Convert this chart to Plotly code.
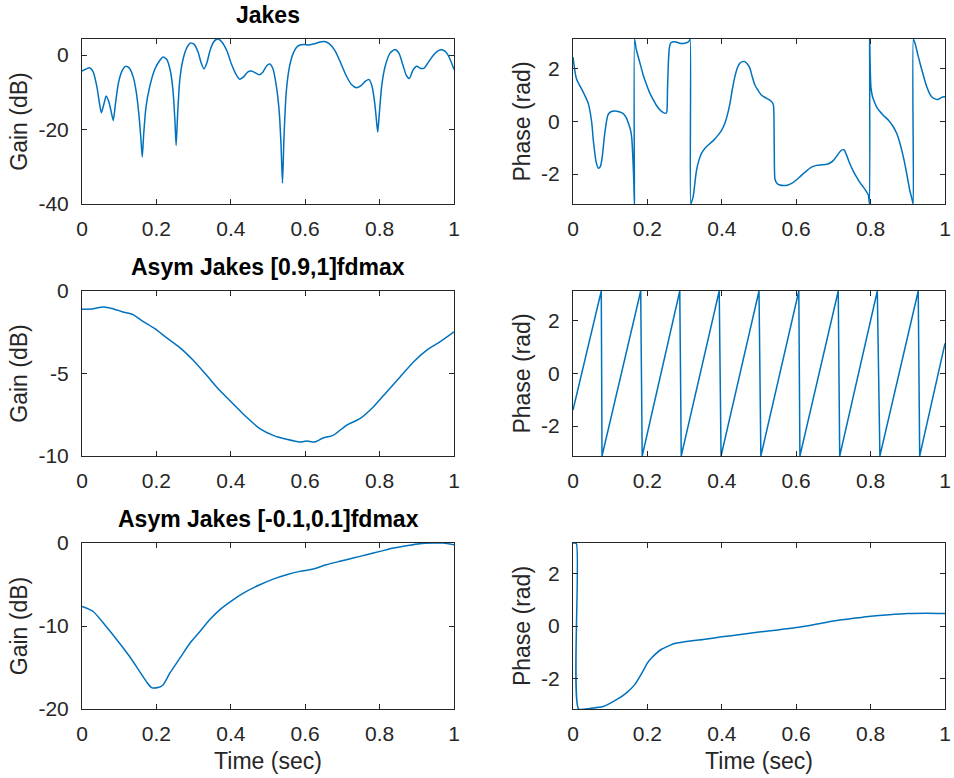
import math
import plotly.graph_objects as go

PI = math.pi

# ---------------- data ----------------
# Row 1: Jakes
jakes_t = [0.000, 0.010, 0.020, 0.030, 0.040, 0.047, 0.052, 0.058, 0.065, 0.072, 0.078, 0.084,
           0.090, 0.098, 0.108, 0.118, 0.128, 0.138, 0.146, 0.153, 0.158, 0.162, 0.166, 0.172,
           0.182, 0.195, 0.208, 0.218, 0.228, 0.238, 0.245, 0.250, 0.253, 0.257, 0.263, 0.272,
           0.282, 0.292, 0.302, 0.312, 0.320, 0.328, 0.336, 0.345, 0.356, 0.366, 0.376, 0.390,
           0.402, 0.414, 0.424, 0.435, 0.446, 0.456, 0.466, 0.476, 0.486, 0.497, 0.505, 0.513,
           0.522, 0.530, 0.535, 0.539, 0.543, 0.549, 0.558, 0.568, 0.580, 0.595, 0.610, 0.625,
           0.640, 0.652, 0.665, 0.680, 0.695, 0.710, 0.725, 0.738, 0.750, 0.762, 0.772, 0.780,
           0.787, 0.792, 0.795, 0.799, 0.806, 0.815, 0.828, 0.841, 0.852, 0.862, 0.872, 0.880,
           0.890, 0.900, 0.910, 0.920, 0.932, 0.945, 0.958, 0.968, 0.978, 0.988, 1.000]
jakes_gain = [-4.3, -3.8, -3.4, -4.5, -8.5, -13.0, -15.5, -13.5, -11.0, -12.5, -15.0, -17.6,
              -13.0, -7.5, -4.2, -3.0, -3.6, -6.0, -10.0, -16.0, -22.0, -27.4, -21.0, -14.0,
              -8.5, -4.0, -1.6, -0.5, -1.2, -4.5, -10.0, -18.0, -24.3, -16.0, -6.5, -1.0,
              2.0, 3.2, 2.8, 0.8, -2.0, -3.7, -2.0, 1.5, 3.8, 4.3, 3.5, 1.0,
              -2.5, -5.2, -6.5, -5.8, -4.5, -4.3, -4.8, -5.3, -4.6, -2.8, -2.4, -3.6,
              -8.0, -15.0, -24.0, -34.4, -22.0, -10.0, -3.0, 0.5, 2.4, 2.8, 2.7, 3.0,
              3.5, 3.6, 3.0, 1.2, -2.0, -5.5, -8.0, -8.8, -8.2, -7.0, -6.6, -8.5,
              -13.0, -18.0, -20.7, -16.0, -8.0, -3.0, 0.5, 1.5, 0.5, -2.5, -5.5, -6.3,
              -4.0, -3.0, -3.6, -3.5, -1.8, 0.0, 1.2, 1.4, 0.8, -0.8, -3.9]

jakes_phase_t = [0.000, 0.009, 0.027, 0.041, 0.050, 0.055, 0.062, 0.068, 0.074, 0.079, 0.085,
                 0.094, 0.103, 0.112, 0.124, 0.135, 0.143, 0.149, 0.155, 0.158, 0.161, 0.1635,
                 0.165, 0.1655, 0.170, 0.179, 0.188, 0.198, 0.206, 0.216, 0.224, 0.234, 0.242,
                 0.249, 0.252, 0.254, 0.256, 0.259, 0.263, 0.274, 0.287, 0.300, 0.309, 0.313,
                 0.315, 0.3165, 0.319, 0.323, 0.328, 0.332, 0.338, 0.345, 0.356, 0.368, 0.379,
                 0.390, 0.400, 0.408, 0.415, 0.422, 0.428, 0.435, 0.442, 0.448, 0.455, 0.462,
                 0.468, 0.475, 0.482, 0.489, 0.497, 0.507, 0.518, 0.529, 0.536, 0.539, 0.541,
                 0.543, 0.548, 0.556, 0.566, 0.578, 0.590, 0.601, 0.614, 0.628, 0.641, 0.655,
                 0.668, 0.682, 0.692, 0.700, 0.709, 0.717, 0.724, 0.729, 0.736, 0.744, 0.753,
                 0.762, 0.771, 0.780, 0.788, 0.794, 0.797, 0.7975, 0.799, 0.801, 0.805, 0.810,
                 0.816, 0.825, 0.834, 0.848, 0.861, 0.870, 0.879, 0.888, 0.897, 0.905, 0.912,
                 0.9145, 0.915, 0.920, 0.926, 0.933, 0.942, 0.951, 0.958, 0.964, 0.971, 0.978,
                 0.985, 0.991, 1.000]
jakes_phase = [2.45, 1.64, 1.13, 0.69, 0.0, -0.77, -1.53, -1.78, -1.7, -1.3, -0.5,
               0.25, 0.38, 0.4, 0.37, 0.3, 0.15, -0.07, -0.35, -0.64, -1.4, -2.3,
               -3.1416, 3.1416, 2.75, 2.28, 1.8, 1.39, 1.1, 0.82, 0.62, 0.44, 0.35,
               0.31, 0.35, 1.2, 2.1, 2.8, 3.0, 3.04, 2.98, 2.98, 3.02, 3.08,
               3.1416, -3.1416, -3.05, -2.87, -2.3, -1.86, -1.5, -1.22, -1.0, -0.84, -0.7,
               -0.52, -0.32, -0.08, 0.25, 0.69, 1.2, 1.7, 2.05, 2.21, 2.28, 2.28,
               2.2, 2.05, 1.7, 1.39, 1.2, 1.0, 0.9, 0.81, 0.72, 0.6, -1.0,
               -2.2, -2.35, -2.42, -2.44, -2.42, -2.34, -2.22, -2.05, -1.88, -1.74, -1.67,
               -1.65, -1.63, -1.57, -1.48, -1.32, -1.16, -1.08, -1.08, -1.3, -1.6, -1.88,
               -2.11, -2.32, -2.49, -2.65, -2.8, -3.1416, 3.1416, 2.0, 1.3, 0.95, 0.75,
               0.56, 0.38, 0.24, 0.05, -0.2, -0.45, -0.84, -1.35, -1.98, -2.6, -3.0,
               -3.1416, 3.1416, 2.95, 2.6, 2.21, 1.75, 1.32, 1.08, 0.94, 0.87, 0.84,
               0.86, 0.92, 0.94]

# Row 2: Asym Jakes [0.9,1]fdmax
asym1_t = [0.000, 0.030, 0.057, 0.083, 0.110, 0.137, 0.164, 0.196, 0.227, 0.263, 0.299,
           0.335, 0.370, 0.406, 0.442, 0.478, 0.514, 0.550, 0.586, 0.604, 0.626, 0.648,
           0.675, 0.711, 0.747, 0.783, 0.819, 0.855, 0.891, 0.926, 0.962, 1.000]
asym1_gain = [-1.11, -1.07, -0.97, -1.07, -1.27, -1.43, -1.84, -2.28, -2.83, -3.43, -4.20,
              -5.11, -6.02, -6.83, -7.64, -8.34, -8.75, -8.99, -9.15, -9.09, -9.15, -8.91,
              -8.75, -8.14, -7.74, -7.03, -6.12, -5.21, -4.30, -3.60, -3.09, -2.48]

asym1_phase_t = [0.000, 0.076, 0.078, 0.182, 0.186, 0.287, 0.291, 0.393, 0.398, 0.500,
                 0.505, 0.607, 0.610, 0.713, 0.717, 0.818, 0.825, 0.928, 0.932, 1.000]
asym1_phase = [-1.39, 3.1416, -3.1416, 3.1416, -3.1416, 3.1416, -3.1416, 3.1416, -3.1416, 3.1416,
               -3.1416, 3.1416, -3.1416, 3.1416, -3.1416, 3.1416, -3.1416, 3.1416, -3.1416, 1.15]

# Row 3: Asym Jakes [-0.1,0.1]fdmax
asym2_t = [0.000, 0.030, 0.065, 0.101, 0.128, 0.155, 0.173, 0.187, 0.204, 0.218, 0.236,
           0.263, 0.290, 0.317, 0.343, 0.370, 0.406, 0.442, 0.478, 0.514, 0.550, 0.586,
           0.622, 0.657, 0.693, 0.729, 0.765, 0.801, 0.837, 0.873, 0.908, 0.944, 0.971, 1.000]
asym2_gain = [-7.65, -8.25, -10.06, -12.07, -13.68, -15.49, -16.70, -17.42, -17.42, -17.10, -15.69,
              -13.88, -12.07, -10.66, -9.26, -8.05, -6.84, -5.83, -5.03, -4.35, -3.82, -3.42,
              -3.14, -2.62, -2.21, -1.81, -1.41, -1.01, -0.60, -0.32, -0.08, 0.00, 0.00, -0.20]

asym2_phase_t = [0.000, 0.009, 0.015, 0.045, 0.081, 0.117, 0.143, 0.166, 0.188, 0.200, 0.211,
                 0.238, 0.250, 0.269, 0.300, 0.350, 0.400, 0.450, 0.500, 0.550, 0.600, 0.650,
                 0.700, 0.750, 0.800, 0.850, 0.900, 0.950, 1.000]
asym2_phase = [3.14, 3.12, -3.14, -3.12, -3.05, -2.79, -2.54, -2.22, -1.71, -1.40, -1.21,
               -0.88, -0.80, -0.68, -0.60, -0.51, -0.41, -0.32, -0.23, -0.15, -0.06, 0.06,
               0.19, 0.28, 0.37, 0.43, 0.47, 0.48, 0.47]

titles = ["Jakes", "Asym Jakes [0.9,1]fdmax", "Asym Jakes [-0.1,0.1]fdmax"]
x_tickvals = [0, 0.2, 0.4, 0.6, 0.8, 1]
x_ticktext = ["0", "0.2", "0.4", "0.6", "0.8", "1"]
gain1_ticks = [-40, -20, 0]
gain1_text = ["-40", "-20", "0"]
gain2_ticks = [-10, -5, 0]
gain2_text = ["-10", "-5", "0"]
gain3_ticks = [-20, -10, 0]
gain3_text = ["-20", "-10", "0"]
phase_ticks = [-2, 0, 2]
phase_text = ["-2", "0", "2"]
gain_label = "Gain (dB)"
phase_label = "Phase (rad)"
time_label = "Time (sec)"

# ---------------- layout geometry (pixels) ----------------
W, H = 954, 778
col_px = [(82, 454), (573, 945)]
row_px = [(39, 204), (291, 456), (543, 709)]

LINE = "#0072BD"
AX = "#262626"
FONT = "Liberation Sans, Arial, Helvetica, sans-serif"

fig = go.Figure()

series = [
    (jakes_t, jakes_gain, "spline"), (jakes_phase_t, jakes_phase, "spline"),
    (asym1_t, asym1_gain, "spline"), (asym1_phase_t, asym1_phase, "linear"),
    (asym2_t, asym2_gain, "spline"), (asym2_phase_t, asym2_phase, "spline"),
]
yinfo = [
    ([-40, 4.3], gain1_ticks, gain1_text, gain_label),
    ([-PI, PI], phase_ticks, phase_text, phase_label),
    ([-10, 0], gain2_ticks, gain2_text, gain_label),
    ([-PI, PI], phase_ticks, phase_text, phase_label),
    ([-20, 0], gain3_ticks, gain3_text, gain_label),
    ([-PI, PI], phase_ticks, phase_text, phase_label),
]

layout = dict(
    width=W, height=H, margin=dict(l=0, r=0, t=0, b=0),
    paper_bgcolor="white", plot_bgcolor="white", showlegend=False,
    font=dict(family=FONT, color=AX, size=21),
)
annotations = []

for i, (xs, ys, shape) in enumerate(series):
    r, c = divmod(i, 2)
    n = i + 1
    xname = "x" if n == 1 else f"x{n}"
    yname = "y" if n == 1 else f"y{n}"
    line = dict(color=LINE, width=1.5, shape=shape)
    if shape == "spline":
        line["smoothing"] = 0.6
    fig.add_trace(go.Scatter(x=xs, y=ys, mode="lines", xaxis=xname, yaxis=yname,
                             line=line, hoverinfo="skip"))
    x0, x1 = col_px[c]
    y0, y1 = row_px[r]
    common = dict(showline=True, linecolor=AX, linewidth=1, mirror="ticks",
                  ticks="inside", ticklen=5, tickwidth=1, tickcolor=AX,
                  showgrid=False, zeroline=False, automargin=False,
                  tickfont=dict(family=FONT, size=21, color=AX))
    xa = dict(common, domain=[x0 / W, x1 / W], range=[0, 1], anchor=yname,
              tickmode="array", tickvals=x_tickvals, ticktext=x_ticktext,
              ticklabelstandoff=6)
    if r == 2:
        xa["title"] = dict(text=time_label, font=dict(family=FONT, size=23, color=AX), standoff=8)
    yr, yt, ytt, ylab = yinfo[i]
    ya = dict(common, domain=[1 - y1 / H, 1 - y0 / H], range=yr, anchor=xname,
              tickmode="array", tickvals=yt, ticktext=ytt, ticklabelstandoff=8,
              title=dict(text=ylab, font=dict(family=FONT, size=23, color=AX), standoff=4))
    layout["xaxis" if n == 1 else f"xaxis{n}"] = xa
    layout["yaxis" if n == 1 else f"yaxis{n}"] = ya
    if c == 0:
        annotations.append(dict(text=f"<b>{titles[r]}</b>", xref="paper", yref="paper",
                                x=(x0 + x1) / 2 / W, y=1 - (y0 - 9) / H,
                                xanchor="center", yanchor="bottom", showarrow=False,
                                font=dict(family=FONT, size=23, color="#000000")))

layout["annotations"] = annotations
fig.update_layout(**layout)
fig.write_html("out.html")
